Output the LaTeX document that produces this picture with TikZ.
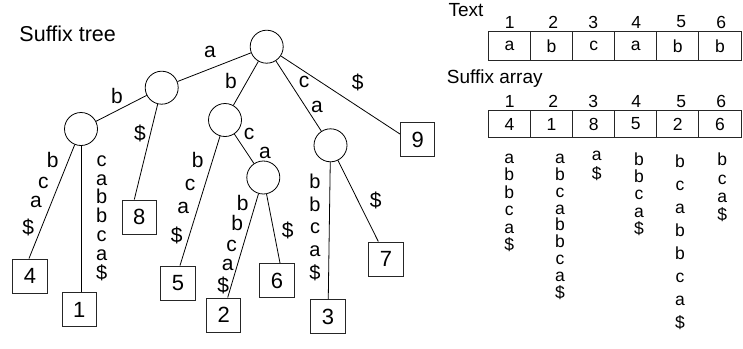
\documentclass[tikz,border=0pt]{standalone}
\usepackage{fontspec}
\setmainfont{Liberation Sans}
\begin{document}
\begin{tikzpicture}[x=1pt,y=-1pt,
  inner/.style={circle,draw,line width=0.8pt,minimum size=33pt,inner sep=0pt},
  leaf/.style={draw=black!85,line width=1pt,minimum width=34.5pt,minimum height=34pt,inner sep=0pt,font=\fontsize{22}{22}\selectfont},
  lbl/.style={inner sep=0pt,font=\fontsize{21}{21}\selectfont},
  edge/.style={line width=0.8pt},
  cell/.style={draw=black!85,line width=0.9pt,minimum width=42.1pt,inner sep=0pt,font=\fontsize{17.5}{17.5}\selectfont},
  idx/.style={inner sep=0pt,font=\fontsize{17.5}{17.5}\selectfont},
  col/.style={align=center,inner sep=0pt,font=\fontsize{17.5}{#1}\selectfont},
  tstack/.style={align=center,inner sep=0pt,font=\fontsize{20}{#1}\selectfont}]
\useasboundingbox (0,0) rectangle (743,348);

% titles
\node[inner sep=0pt,anchor=west,font=\fontsize{21.5}{21.5}\selectfont] (title) at (19.3,34) {Suffix tree};
\node[inner sep=0pt,anchor=west,font=\fontsize{19}{19}\selectfont] (textlbl) at (448.3,9.7) {Text};
\node[inner sep=0pt,anchor=west,font=\fontsize{19}{19}\selectfont] (salbl) at (446.7,79) {Suffix array};

% internal nodes
\node[inner] (r) at (266.7,46.7) {};
\node[inner] (A) at (161.7,87.7) {};
\node[inner] (AB) at (81,129) {};
\node[inner] (B) at (225,120) {};
\node[inner] (BCA) at (263.3,177.5) {};
\node[inner] (CA) at (330.5,145.3) {};

% leaves
\node[leaf] (n4) at (30,276) {4};
\node[leaf] (n1) at (79.3,309.5) {1};
\node[leaf] (n8) at (139.3,217) {8};
\node[leaf] (n5) at (178,283) {5};
\node[leaf] (n2) at (223.7,315) {2};
\node[leaf] (n6) at (277,280.5) {6};
\node[leaf] (n3) at (328,316.5) {3};
\node[leaf] (n7) at (386,259) {7};
\node[leaf] (n9) at (417.7,139.5) {9};

% edges
\draw[edge] (r) -- (A);
\draw[edge] (A) -- (AB);
\draw[edge] (A) -- ([xshift=-5pt]n8.north);
\draw[edge] (AB) -- ([xshift=-1pt]n4.north);
\draw[edge] (AB) -- (AB |- n1.north);
\draw[edge] (r) -- (B);
\draw[edge] (r) -- (CA);
\draw[edge] (r) -- ([yshift=5.5pt]n9.west);
\draw[edge] (B) -- (BCA);
\draw[edge] (B) -- ([xshift=2pt]n5.north);
\draw[edge] (BCA) -- ([xshift=4pt]n2.north);
\draw[edge] (BCA) -- ([xshift=3pt]n6.north);
\draw[edge] (CA) -- (n3);
\draw[edge] (CA) -- ([xshift=-7.7pt]n7.north);

% edge labels
\node[lbl] (la1) at (210,52) {a};
\node[lbl] (lb1) at (117,96) {b};
\node[lbl] (ld1) at (140,133) {\$};
\node[lbl] (lb2) at (231,81) {b};
\node[lbl] (lc1) at (304,82) {c};
\node[lbl] (la2) at (317,107) {a};
\node[lbl] (ld2) at (357.7,82) {\$};
\node[lbl] (lc2) at (249,134) {c};
\node[lbl] (la3) at (265,153) {a};
% AB -- 4
\node[lbl] (e4a) at (52.7,160) {b};
\node[lbl] (e4b) at (43.3,183.3) {c};
\node[lbl] (e4c) at (36,202) {a};
\node[lbl] (e4d) at (28.3,227.3) {\$};
% B -- 5
\node[lbl] (e5a) at (197.7,160) {b};
\node[lbl] (e5b) at (190,185) {c};
\node[lbl] (e5c) at (183.3,208.3) {a};
\node[lbl] (e5d) at (176.7,235) {\$};
% BCA -- 2
\node[lbl] (e2a) at (242.7,203.3) {b};
\node[lbl] (e2b) at (237.3,223.3) {b};
\node[lbl] (e2c) at (231.7,246) {c};
\node[lbl] (e2d) at (227.7,265) {a};
\node[lbl] (e2e) at (223.3,285) {\$};
% BCA -- 6, CA -- 7
\node[lbl] (e6) at (287.7,230) {\$};
\node[lbl] (e7) at (375.7,200) {\$};
% vertical stacks
\node[tstack=18.8] (e1) at (101.7,218) {c\\a\\b\\b\\c\\a\\\$};
\node[tstack=22.75] (e3) at (315,227.2) {b\\b\\c\\a\\\$};

% Text table
\foreach \c [count=\i] in {a,b,c,a,b,b}
  \node[cell,minimum height=28.3pt] (t\i) at (509.5+42.08*\i-42.08,45.85) {\c};
\foreach \n/\x in {1/509.7,2/553.3,3/593.3,4/636.3,5/681.3,6/721.3}
  \node[idx] (ti\n) at (\x,22) {\n};

% Suffix array table
\foreach \c [count=\i] in {4,1,8,5,2,6}
  \node[cell,minimum height=26.6pt] (s\i) at (509.5+42.08*\i-42.08,124) {\c};
\foreach \n/\x in {1/509.7,2/553.3,3/593.3,4/636.3,5/681.3,6/721.3}
  \node[idx] (si\n) at (\x,101.5) {\n};

% suffixes
\node[col=17.5] (c1) at (509.3,203) {a\\b\\b\\c\\a\\\$};
\node[col=16.8] (c2) at (560,226.7) {a\\b\\c\\a\\b\\b\\c\\a\\\$};
\node[col=18.3] (c3) at (596.7,165.8) {a\\\$};
\node[col=17.1] (c4) at (639,194.2) {b\\b\\c\\a\\\$};
\node[col=23] (c5) at (680,242.2) {b\\c\\a\\b\\b\\c\\a\\\$};
\node[col=18.3] (c6) at (722.3,187.5) {b\\c\\a\\\$};
\end{tikzpicture}
\end{document}
